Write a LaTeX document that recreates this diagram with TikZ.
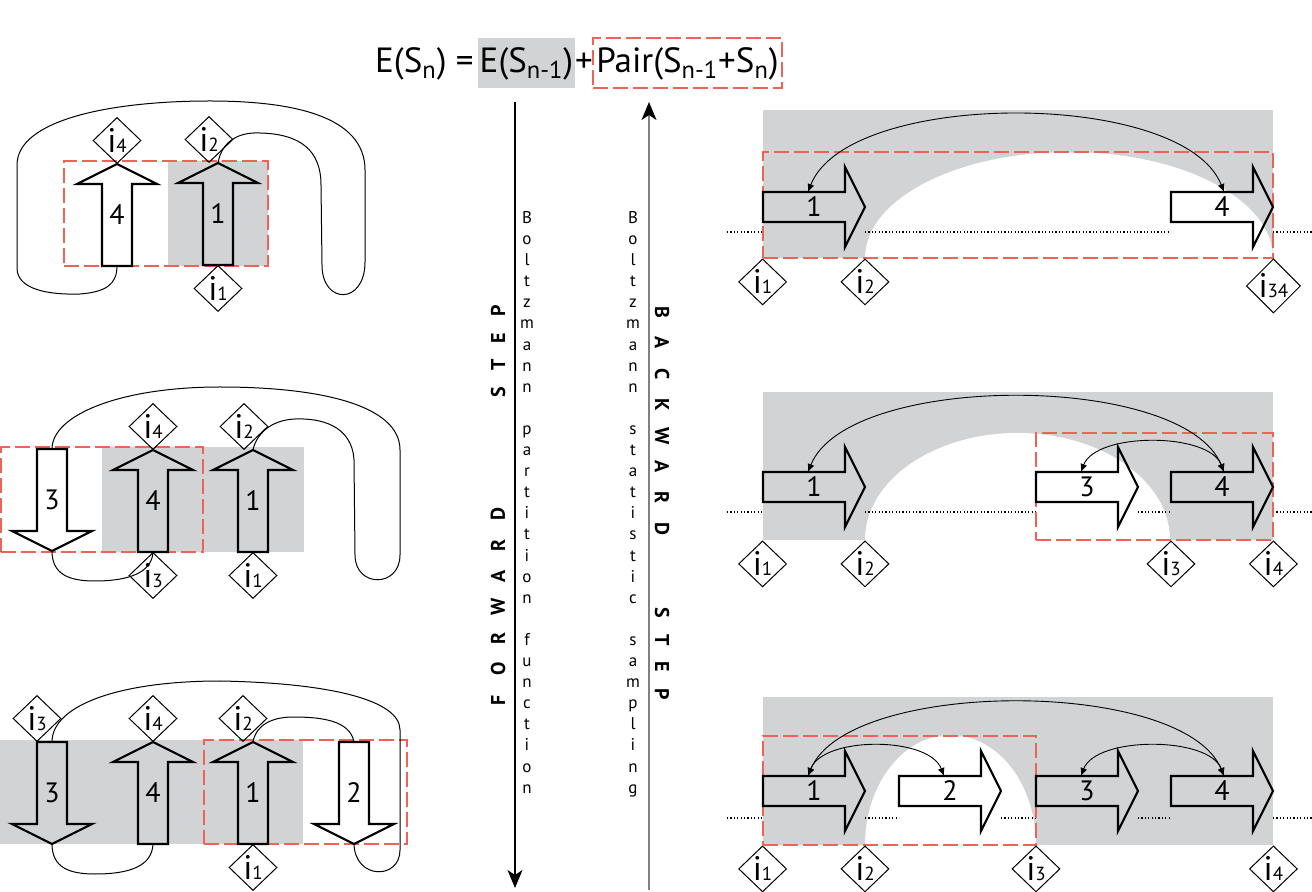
\documentclass[tikz,border=0pt]{standalone}
\usepackage{fontspec}
\setmainfont{PT Sans}
\usetikzlibrary{arrows.meta,fit,positioning,shapes.geometric}
\definecolor{boxgray}{RGB}{209,211,212}
\definecolor{pairred}{RGB}{239,98,86}
\newcommand\isite[1]{{\fontsize{17}{17}\selectfont i}{\fontsize{9.5}{9.5}\selectfont #1}}
\newcommand\eqfont{\fontsize{17.5}{19}\selectfont}
\tikzset{
  graybox/.style={fill=boxgray,draw=none,inner sep=0pt},
  redbox/.style={draw=pairred,line width=0.7pt,dash pattern=on 7.5pt off 2.5pt,inner sep=0pt},
  eqtext/.style={font=\eqfont,inner sep=0pt,text height=13.5pt,text depth=3.5pt},
  site/.style={draw,diamond,inner sep=0pt,minimum width=24pt,minimum height=23pt,line width=0.5pt},
  strand/.style={line width=0.5pt},
  pairarc/.style={<->,>={Latex[length=4pt,width=3.5pt]},line width=0.45pt},
  chain/.style={line width=0.6pt,dash pattern=on 0.6pt off 1.1pt},
  arrowlbl/.style={font=\fontsize{14}{14}\selectfont,inner sep=0pt},
  stacked/.style={align=center,font=\fontsize{8.5}{10.55}\selectfont,inner sep=0pt,anchor=north},
  steplbl/.style={font=\bfseries\fontsize{10}{10}\selectfont,inner sep=0pt},
  pics/fatarrow/.style={code={
    \draw[line width=1.1pt] (0,-15) -- (82,-15) -- (82,-40) -- (102,0) -- (82,40) -- (82,15) -- (0,15) -- cycle;
    \coordinate (-tail) at (0,0);
    \coordinate (-tip) at (102,0);
    \coordinate (-top) at (45,-15);
    \node[arrowlbl] (-lbl) at (51,0) {#1};
  }}
}
\begin{document}
\begin{tikzpicture}[x=0.5pt,y=-0.5pt,>=Latex]
  \useasboundingbox (0,0) rectangle (1312,892);

  % energy recursion
  \node[eqtext,anchor=east] (lhs) at (474,63) {E(S\textsubscript{n}) =};
  \node[eqtext,graybox,minimum width=48.5pt,minimum height=25pt] (prev) at (526.5,63) {E(S\textsubscript{n-1})};
  \node[eqtext] (plus) at (584,63) {+};
  \node[eqtext,redbox,minimum width=94.5pt,minimum height=25pt] (pair) at (687.5,63) {Pair(S\textsubscript{n-1}+S\textsubscript{n})};

  % forward / backward axes
  \coordinate (fwtop) at (515,102);
  \coordinate (fwbot) at (515,888);
  \coordinate (bwbot) at (649,890);
  \coordinate (bwtop) at (649,102);
  \draw[line width=0.6pt,-{Stealth[length=9pt,width=7.5pt,inset=2.5pt]}] (fwtop) -- (fwbot);
  \draw[draw=black!50,line width=0.8pt,-{Stealth[length=9pt,width=7.5pt,inset=2.5pt,color=black]}] (bwbot) -- (bwtop);
  \foreach \c [count=\k] in {F,O,R,W,A,R,D}
    \node[steplbl,rotate=90] (fw\k) at (498,731-31*\k) {\c};
  \foreach \c [count=\k] in {S,T,E,P}
    \node[steplbl,rotate=90] (fs\k) at (498,419-27*\k) {\c};
  \foreach \c [count=\k] in {B,A,C,K,W,A,R,D}
    \node[steplbl,rotate=-90] (bw\k) at (662,281+31*\k) {\c};
  \foreach \c [count=\k] in {S,T,E,P}
    \node[steplbl,rotate=-90] (bs\k) at (662,586+27*\k) {\c};
  \node[stacked] (bzfw) at (527,211) {B\\o\\l\\t\\z\\m\\a\\n\\n\\[10.55pt]p\\a\\r\\t\\i\\t\\i\\o\\n\\[10.55pt]f\\u\\n\\c\\t\\i\\o\\n};
  \node[stacked] (bzbw) at (633,211) {B\\o\\l\\t\\z\\m\\a\\n\\n\\[10.55pt]s\\t\\a\\t\\i\\s\\t\\i\\c\\[10.55pt]s\\a\\m\\p\\l\\i\\n\\g};

  % left 1: strands 4,1
  \node[graybox,fit={(168,161) (268,266)}] (p1keep) {};
  \node[redbox,fit={(64,161) (268,266)}] (p1pair) {};
  \pic[rotate=90] (p1a4) at (117,266) {fatarrow=4};
  \pic[rotate=90] (p1a1) at (218,265) {fatarrow=1};
  \node[site,above=0pt of p1a4-tip] (p1i4) {\isite{4}};
  \node[site,above=0pt of p1a1-tip,xshift=-4.5pt] (p1i2) {\isite{2}};
  \node[site,below=0pt of p1a1-tail] (p1i1) {\isite{1}};
  \draw[strand] (p1a1-tip) .. controls (222,140) and (240,132) .. (260,133)
    .. controls (300,134) and (321,150) .. (321,185) -- (322,265)
    .. controls (322,305) and (365,305) .. (365,262) -- (365,170)
    .. controls (365,115) and (290,101) .. (210,101)
    .. controls (110,101) and (17,120) .. (17,165) -- (17,268)
    .. controls (17,290) and (50,295) .. (80,294)
    .. controls (105,292) and (117,285) .. (p1a4-tail);

  % left 2: strands 3,4,1
  \node[graybox,fit={(102,447) (304,552)}] (p2keep) {};
  \node[redbox,fit={(1,447) (203,552)}] (p2pair) {};
  \pic[rotate=-90] (p2a3) at (52,449) {fatarrow=3};
  \pic[rotate=90] (p2a4) at (153,552) {fatarrow=4};
  \pic[rotate=90] (p2a1) at (253,552) {fatarrow=1};
  \node[site,above=0pt of p2a4-tip] (p2i4) {\isite{4}};
  \node[site,above=0pt of p2a1-tip,xshift=-4.5pt] (p2i2) {\isite{2}};
  \node[site,below=0pt of p2a4-tail] (p2i3) {\isite{3}};
  \node[site,below=0pt of p2a1-tail] (p2i1) {\isite{1}};
  \draw[strand] (p2a3-tip) .. controls (52,575) and (70,581) .. (95,581)
    .. controls (130,581) and (152,572) .. (p2a4-tail);
  \draw[strand] (p2a3-tail) .. controls (52,415) and (120,387) .. (220,387)
    .. controls (320,387) and (400,405) .. (400,450) -- (400,555)
    .. controls (400,588) and (355,588) .. (355,555) -- (354,460)
    .. controls (352,425) and (320,418) .. (295,419)
    .. controls (270,420) and (256,435) .. (p2a1-tip);

  % left 3: strands 3,4,1,2
  \node[graybox,fit={(0,740) (303,844)}] (p3keep) {};
  \node[redbox,fit={(204,740) (407,844)}] (p3pair) {};
  \pic[rotate=-90] (p3a3) at (52,742) {fatarrow=3};
  \pic[rotate=90] (p3a4) at (153,844) {fatarrow=4};
  \pic[rotate=90] (p3a1) at (253,844) {fatarrow=1};
  \pic[rotate=-90] (p3a2) at (354,742) {fatarrow=2};
  \node[site,above=0pt of p3a3-tail,xshift=-7.5pt] (p3i3) {\isite{3}};
  \node[site,above=0pt of p3a4-tip] (p3i4) {\isite{4}};
  \node[site,above=0pt of p3a1-tip,xshift=-5pt] (p3i2) {\isite{2}};
  \node[site,below=0pt of p3a1-tail] (p3i1) {\isite{1}};
  \draw[strand] (p3a3-tip) .. controls (52,868) and (70,874) .. (95,874)
    .. controls (130,874) and (152,866) .. (p3a4-tail);
  \draw[strand] (p3a1-tip) .. controls (256,725) and (272,717) .. (293,717)
    .. controls (320,717) and (350,720) .. (p3a2-tail);
  \draw[strand] (p3a2-tip) .. controls (355,880) and (400,880) .. (400,850) -- (400,730)
    .. controls (400,700) and (330,683) .. (220,681)
    .. controls (120,681) and (52,705) .. (p3a3-tail);

  % right 1
  \node[graybox,fit={(763,110) (1273,258)}] (r1keep) {};
  \fill[white] (865,258) .. controls (865,199.5) and (956.4,152) .. (1069,152)
    .. controls (1181.6,152) and (1273,199.5) .. (1273,258) -- cycle;
  \draw[chain] (727,232) -- (763,232) (865,232) -- (1171,232) (1273,232) -- (1312,232);
  \node[redbox,fit={(763,152) (1273,258)}] (r1pair) {};
  \pic (r1a1) at (763,207) {fatarrow=1};
  \pic (r1a4) at (1171,207) {fatarrow=4};
  \draw[pairarc] (r1a1-top) .. controls +(40,-103) and +(-40,-103) .. ([xshift=4pt]r1a4-top);
  \node[site,below=0pt of r1keep.south west] (r1i1) {\isite{1}};
  \node[site,anchor=north] (r1i2) at (r1a1-tip |- r1keep.south) {\isite{2}};
  \node[site,below=0pt of r1keep.south east] (r1i34) {\isite{34}};

  % right 2
  \node[graybox,fit={(763,392) (1273,540)}] (r2keep) {};
  \fill[white] (865,540) .. controls (865,481) and (933.3,433) .. (1017.5,433)
    .. controls (1101.7,433) and (1170,481) .. (1170,540) -- cycle;
  \draw[chain] (727,512) -- (763,512) (865,512) -- (1036,512) (1138,512) -- (1171,512) (1273,512) -- (1312,512);
  \node[redbox,fit={(1036,433) (1273,540)}] (r2pair) {};
  \pic (r2a1) at (763,487) {fatarrow=1};
  \pic (r2a3) at (1036,487) {fatarrow=3};
  \pic (r2a4) at (1171,487) {fatarrow=4};
  \draw[pairarc] (r2a1-top) .. controls +(40,-100) and +(-40,-100) .. ([xshift=4pt]r2a4-top);
  \draw[pairarc] (r2a3-top) .. controls +(15,-40) and +(-15,-40) .. ([xshift=4pt]r2a4-top);
  \node[site,below=0pt of r2keep.south west] (r2i1) {\isite{1}};
  \node[site,anchor=north] (r2i2) at (r2a1-tip |- r2keep.south) {\isite{2}};
  \node[site,anchor=north] (r2i3) at (r2a4-tail |- r2keep.south) {\isite{3}};
  \node[site,below=0pt of r2keep.south east] (r2i4) {\isite{4}};

  % right 3
  \node[graybox,fit={(763,697) (1273,845)}] (r3keep) {};
  \fill[white] (865,845) .. controls (865,784.3) and (903.3,735) .. (950.5,735)
    .. controls (997.7,735) and (1036,784.3) .. (1036,845) -- cycle;
  \draw[chain] (727,818) -- (763,818) (865,818) -- (899,818) (1001,818) -- (1036,818) (1138,818) -- (1171,818) (1273,818) -- (1312,818);
  \node[redbox,fit={(763,736) (1036,845)}] (r3pair) {};
  \pic (r3a1) at (763,791) {fatarrow=1};
  \pic (r3a2) at (899,791) {fatarrow=2};
  \pic (r3a3) at (1036,791) {fatarrow=3};
  \pic (r3a4) at (1171,791) {fatarrow=4};
  \draw[pairarc] (r3a1-top) .. controls +(40,-98) and +(-40,-98) .. ([xshift=4pt]r3a4-top);
  \draw[pairarc] (r3a1-top) .. controls +(15,-40) and +(-15,-40) .. (r3a2-top);
  \draw[pairarc] (r3a3-top) .. controls +(15,-40) and +(-15,-40) .. ([xshift=4pt]r3a4-top);
  \node[site,below=0pt of r3keep.south west] (r3i1) {\isite{1}};
  \node[site,anchor=north] (r3i2) at (r3a1-tip |- r3keep.south) {\isite{2}};
  \node[site,anchor=north] (r3i3) at (r3a3-tail |- r3keep.south) {\isite{3}};
  \node[site,below=0pt of r3keep.south east] (r3i4) {\isite{4}};
\end{tikzpicture}
\end{document}
